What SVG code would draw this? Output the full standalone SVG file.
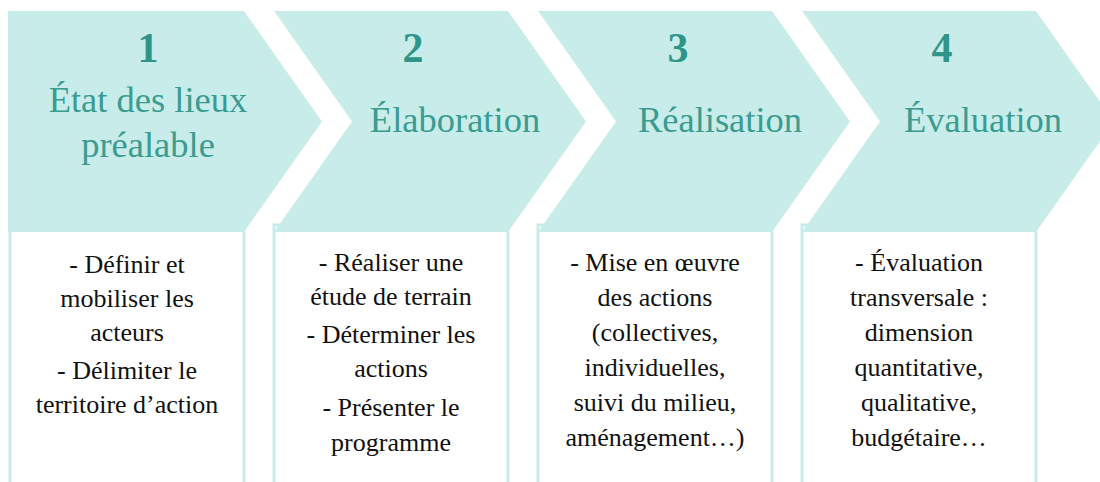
<svg xmlns="http://www.w3.org/2000/svg" width="1100" height="482" viewBox="0 0 1100 482">
<style>
.chev{fill:#c8ecea;}
.box{fill:#ffffff;stroke:#c8ecea;stroke-width:3;}
.num{font-family:"Liberation Serif",serif;font-weight:bold;font-size:42px;fill:#2f9588;text-anchor:middle;}
.ttl{font-family:"Liberation Serif",serif;font-size:36.5px;fill:#3a9c90;text-anchor:middle;}
.txt{font-family:"Liberation Serif",serif;font-size:26px;fill:#111111;text-anchor:middle;}
</style>
<rect width="1100" height="482" fill="#ffffff"/>
<g id="step1">
<rect class="box" x="10" y="225" width="234" height="280"/>
<polygon class="chev" points="8,11 244,11 322,121.5 244,232 8,232"/>
<text class="num" x="148" y="62">1</text>
<text class="ttl" x="148" y="112">État des lieux</text>
<text class="ttl" x="148" y="157">préalable</text>
<text class="txt" x="127"><tspan x="127" y="273">- Définir et</tspan><tspan x="127" y="307">mobiliser les</tspan><tspan x="127" y="341">acteurs</tspan><tspan x="127" y="379">- Délimiter le</tspan><tspan x="127" y="413">territoire d’action</tspan></text>
</g>
<g id="step2">
<rect class="box" x="274" y="225" width="234" height="280"/>
<polygon class="chev" points="274,11 508,11 586,121.5 508,232 274,232 352,121.5"/>
<text class="num" x="413" y="62">2</text>
<text class="ttl" x="455" y="132">Élaboration</text>
<text class="txt"><tspan x="391" y="271">- Réaliser une</tspan><tspan x="391" y="305">étude de terrain</tspan><tspan x="391" y="343">- Déterminer les</tspan><tspan x="391" y="377">actions</tspan><tspan x="391" y="416">- Présenter le</tspan><tspan x="391" y="451">programme</tspan></text>
</g>
<g id="step3">
<rect class="box" x="538" y="225" width="234" height="280"/>
<polygon class="chev" points="538,11 772,11 850,121.5 772,232 538,232 616,121.5"/>
<text class="num" x="678" y="62">3</text>
<text class="ttl" x="720" y="132">Réalisation</text>
<text class="txt"><tspan x="655" y="271">- Mise en œuvre</tspan><tspan x="655" y="306">des actions</tspan><tspan x="655" y="341">(collectives,</tspan><tspan x="655" y="376">individuelles,</tspan><tspan x="655" y="411">suivi du milieu,</tspan><tspan x="655" y="446">aménagement…)</tspan></text>
</g>
<g id="step4">
<rect class="box" x="802" y="225" width="234" height="280"/>
<polygon class="chev" points="802,11 1036,11 1114,121.5 1036,232 802,232 880,121.5"/>
<text class="num" x="942" y="62">4</text>
<text class="ttl" x="983" y="132">Évaluation</text>
<text class="txt"><tspan x="919" y="271">- Évaluation</tspan><tspan x="919" y="306">transversale :</tspan><tspan x="919" y="341">dimension</tspan><tspan x="919" y="376">quantitative,</tspan><tspan x="919" y="411">qualitative,</tspan><tspan x="919" y="446">budgétaire…</tspan></text>
</g>
<g id="connectors"></g>
</svg>
